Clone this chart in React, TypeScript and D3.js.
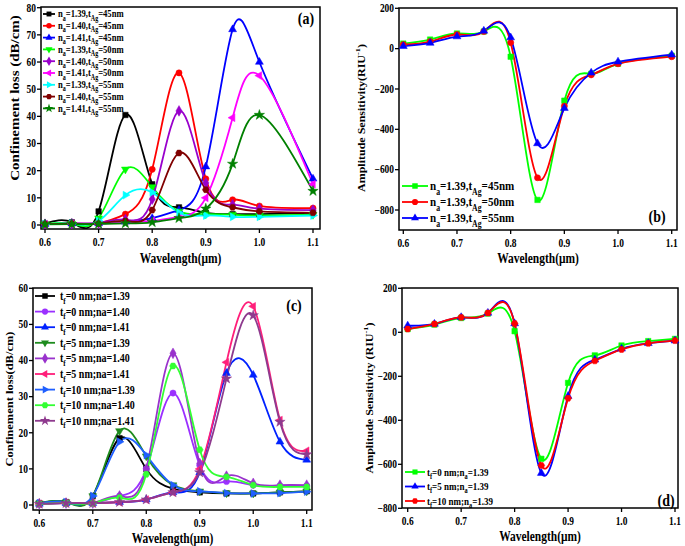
import React from 'react';
import * as d3 from 'd3';

// squeeze text horizontally like the source image
const SX = 0.82;
const FONT = '"Liberation Serif", "Times New Roman", serif';

// wavelengths (um)
const wlAB = [0.6, 0.65, 0.7, 0.75, 0.8, 0.85, 0.9, 0.95, 1.0, 1.1];
const wlCD = [0.6, 0.65, 0.7, 0.75, 0.8, 0.85, 0.9, 0.95, 1.0, 1.05, 1.1];
const xTicks = [0.6, 0.7, 0.8, 0.9, 1.0, 1.1];

// (a) confinement loss, dB/cm
const lossA_139_45 = [0.5, 1, 5, 40.5, 15, 6.5, 4.5, 4, 4, 4.5];
const lossA_140_45 = [0.3, 0.5, 0.8, 4, 20.5, 56, 17, 9.3, 7, 6.2];
const lossA_141_45 = [0.3, 0.5, 0.6, 1.2, 2.5, 5.5, 21.5, 72, 60, 17];
const lossA_139_50 = [0.3, 0.5, 2.5, 20.5, 14, 5, 4, 3.8, 3.5, 3.8];
const lossA_140_50 = [0.3, 0.5, 0.7, 2, 9.5, 42, 15.5, 7.5, 6, 5.5];
const lossA_141_50 = [0.3, 0.5, 0.5, 1, 1.5, 3, 10, 39.5, 55, 15];
const lossA_139_55 = [0.3, 0.5, 1.5, 11, 12, 4.5, 3.5, 3, 3, 3.5];
const lossA_140_55 = [0.3, 0.5, 0.5, 1.5, 5.5, 26.5, 13, 6.5, 5, 4.5];
const lossA_141_55 = [0.2, 0.3, 0.4, 0.6, 1, 2.5, 6, 22.5, 40.5, 12.5];
const yTicksA = [0, 10, 20, 30, 40, 50, 60, 70, 80];

// (b) amplitude sensitivity, RIU^-1
const sensB_45 = [25, 45, 75, 85, -40, -750, -258, -125, -75, -35];
const sensB_50 = [20, 35, 70, 85, 30, -640, -285, -130, -75, -40];
const sensB_55 = [12, 28, 60, 88, 55, -470, -295, -120, -65, -30];
const yTicksB = [-800, -600, -400, -200, 0, 200];

// (c) confinement loss, dB/cm
const lossC_0_139 = [0.5, 0.8, 2.5, 18.5, 10, 4.5, 3.5, 3.2, 3.2, 3.5, 3.8];
const lossC_0_140 = [0.3, 0.5, 0.5, 2.5, 10, 31, 11, 6.5, 5.5, 5.3, 5.3];
const lossC_0_141 = [0.3, 0.5, 0.5, 0.8, 1.5, 3.5, 9, 36.5, 36, 17.5, 12.5];
const lossC_5_139 = [0.5, 0.8, 2.5, 20.5, 13.5, 5.5, 3.8, 3.3, 3.2, 3.5, 3.8];
const lossC_5_140 = [0.3, 0.5, 0.5, 2.5, 10, 42, 11.5, 8, 6, 5.5, 5.5];
const lossC_5_141 = [0.3, 0.5, 0.5, 0.8, 1.5, 3.5, 10, 39.5, 55, 23.5, 15];
const lossC_10_139 = [0.5, 0.8, 2.5, 17.5, 13.8, 5.5, 3.8, 3.3, 3.2, 3.3, 3.7];
const lossC_10_140 = [0.3, 0.5, 0.5, 2, 8.5, 38.5, 15.3, 7.8, 5.5, 5, 5];
const lossC_10_141 = [0.3, 0.5, 0.5, 0.8, 1.5, 3.5, 9, 35, 52.5, 23, 14];
const yTicksC = [0, 10, 20, 30, 40, 50, 60];

// (d) amplitude sensitivity, RIU^-1
const sensD_0 = [15, 35, 65, 85, 5, -575, -230, -105, -60, -40, -30];
const sensD_5 = [30, 38, 68, 88, 40, -640, -290, -125, -75, -50, -38];
const sensD_10 = [15, 38, 68, 88, 40, -605, -300, -130, -78, -50, -38];
const yTicksD = [-800, -600, -400, -200, 0, 200];

type Series = { label: string; color: string; marker: string; y: number[] };

const seriesA: Series[] = [
  { label: 'n_{a}=1.39,t_{Ag}=45nm', color: '#000000', marker: 'square', y: lossA_139_45 },
  { label: 'n_{a}=1.40,t_{Ag}=45nm', color: '#ff0000', marker: 'circle', y: lossA_140_45 },
  { label: 'n_{a}=1.41,t_{Ag}=45nm', color: '#0000ff', marker: 'up', y: lossA_141_45 },
  { label: 'n_{a}=1.39,t_{Ag}=50nm', color: '#00ff00', marker: 'down', y: lossA_139_50 },
  { label: 'n_{a}=1.40,t_{Ag}=50nm', color: '#9900cc', marker: 'diamond', y: lossA_140_50 },
  { label: 'n_{a}=1.41,t_{Ag}=50nm', color: '#ff00ff', marker: 'left', y: lossA_141_50 },
  { label: 'n_{a}=1.39,t_{Ag}=55nm', color: '#00ffff', marker: 'right', y: lossA_139_55 },
  { label: 'n_{a}=1.40,t_{Ag}=55nm', color: '#800000', marker: 'hex', y: lossA_140_55 },
  { label: 'n_{a}=1.41,t_{Ag}=55nm', color: '#008000', marker: 'star', y: lossA_141_55 },
];

const seriesB: Series[] = [
  { label: 'n_{a}=1.39,t_{Ag}=45nm', color: '#00ff00', marker: 'square', y: sensB_45 },
  { label: 'n_{a}=1.39,t_{Ag}=50nm', color: '#ff0000', marker: 'circle', y: sensB_50 },
  { label: 'n_{a}=1.39,t_{Ag}=55nm', color: '#0000ff', marker: 'up', y: sensB_55 },
];

const seriesC: Series[] = [
  { label: 't_{f}=0 nm;na=1.39', color: '#000000', marker: 'square', y: lossC_0_139 },
  { label: 't_{f}=0 nm;na=1.40', color: '#9b30ff', marker: 'circle', y: lossC_0_140 },
  { label: 't_{f}=0 nm;na=1.41', color: '#0022ff', marker: 'up', y: lossC_0_141 },
  { label: 't_{f}=5 nm;na=1.39', color: '#1e8c1e', marker: 'down', y: lossC_5_139 },
  { label: 't_{f}=5 nm;na=1.40', color: '#9932cc', marker: 'diamond', y: lossC_5_140 },
  { label: 't_{f}=5 nm;na=1.41', color: '#ff1f7a', marker: 'left', y: lossC_5_141 },
  { label: 't_{f}=10 nm;na=1.39', color: '#1f5fff', marker: 'right', y: lossC_10_139 },
  { label: 't_{f}=10 nm;na=1.40', color: '#33ff33', marker: 'hex', y: lossC_10_140 },
  { label: 't_{f}=10 nm;na=1.41', color: '#8e3a8e', marker: 'star', y: lossC_10_141 },
];

const seriesD: Series[] = [
  { label: 't_{f}=0 nm;n_{a}=1.39', color: '#00ff00', marker: 'square', y: sensD_0 },
  { label: 't_{f}=5 nm;n_{a}=1.39', color: '#0000ff', marker: 'up', y: sensD_5 },
  { label: 't_{f}=10 nm;n_{a}=1.39', color: '#ff0000', marker: 'hex', y: sensD_10 },
];

function markerPath(kind: string, s: number) {
  const sym = d3.symbol();
  if (kind === 'square') return { d: sym.type(d3.symbolSquare).size(s)()!, r: 0 };
  if (kind === 'circle') return { d: sym.type(d3.symbolCircle).size(s)()!, r: 0 };
  if (kind === 'diamond') return { d: sym.type(d3.symbolDiamond).size(s * 1.1)()!, r: 0 };
  if (kind === 'star') return { d: sym.type(d3.symbolStar).size(s * 1.1)()!, r: 0 };
  if (kind === 'hex') {
    const rr = Math.sqrt(s / 2.6);
    const pts = d3.range(6).map((i) => [rr * Math.cos((i * Math.PI) / 3), rr * Math.sin((i * Math.PI) / 3)]);
    return { d: 'M' + pts.map((p) => p.join(',')).join('L') + 'Z', r: 0 };
  }
  const rot: any = { up: 0, down: 180, left: -90, right: 90 };
  return { d: sym.type(d3.symbolTriangle).size(s * 0.9)()!, r: rot[kind] || 0 };
}

// label with _{sub} and ^{sup}
function RichText({ str, size }: { str: string; size: number }) {
  const parts = str.split(/(_\{[^}]*\}|\^\{[^}]*\})/).filter((p) => p !== '');
  let shift = 0;
  return (
    <>
      {parts.map((p, i) => {
        let target = 0;
        let txt = p;
        let fs = size;
        if (p.startsWith('_{')) { target = size * 0.3; txt = p.slice(2, -1); fs = size * 0.7; }
        else if (p.startsWith('^{')) { target = -size * 0.4; txt = p.slice(2, -1); fs = size * 0.7; }
        const dy = target - shift;
        shift = target;
        return <tspan key={i} dy={dy} fontSize={fs}>{txt}</tspan>;
      })}
    </>
  );
}

function Txt(props: { x: number; y: number; size: number; anchor?: string; rot?: boolean; children: any; baseline?: string }) {
  const { x, y, size, anchor = 'start', rot, children, baseline } = props;
  const tf = rot ? `translate(${x},${y}) rotate(-90) scale(1,${SX})` : `translate(${x},${y}) scale(${SX},1)`;
  return (
    <text transform={tf} fontSize={size} fontWeight="bold" fontFamily={FONT} textAnchor={anchor} dominantBaseline={baseline} fill="#000">
      {children}
    </text>
  );
}

type PanelProps = {
  box: number[]; // left, top, right, bottom
  xr: number[]; // pixel of 0.6 and 1.1
  yDom: number[]; yr: number[];
  yTicks: number[]; xs: number[]; series: Series[];
  yLabel: string; yLabelPos: number[]; yLabelSize: number;
  xLabelY: number; tickY: number;
  tag: string; tagPos: number[];
  legend: { x0: number; x1: number; tx: number; y0: number; dy: number; size: number; ms: number };
};

function Panel(p: PanelProps) {
  const [L, T, R, B] = p.box;
  const x = d3.scaleLinear().domain([0.6, 1.1]).range(p.xr);
  const y = d3.scaleLinear().domain(p.yDom).range(p.yr);
  const line = d3.line<number>().x((_, i) => x(p.xs[i])).y((d) => y(d)).curve(d3.curveNatural);
  const fmtY = (v: number) => (v < 0 ? '\u2212' + Math.abs(v) : String(v));
  const ms = 30;
  return (
    <g>
      <rect x={L} y={T} width={R - L} height={B - T} fill="#fff" stroke="#000" strokeWidth={1.5} />
      {p.series.map((s, si) => (
        <path key={'l' + si} d={line(s.y)!} fill="none" stroke={s.color} strokeWidth={1.8} />
      ))}
      {p.series.map((s, si) => {
        const m = markerPath(s.marker, ms);
        return s.y.map((v, i) => (
          <path key={'m' + si + '_' + i} d={m.d} fill={s.color} stroke={s.color} strokeWidth={0.5}
            transform={`translate(${x(p.xs[i])},${y(v)}) rotate(${m.r})`} />
        ));
      })}
      {/* ticks */}
      {p.yTicks.map((v) => (
        <g key={'yt' + v}>
          <line x1={L - 4} x2={L} y1={y(v)} y2={y(v)} stroke="#000" strokeWidth={1.3} />
          <Txt x={L - 5} y={y(v)} size={11.5} anchor="end" baseline="central">{fmtY(v)}</Txt>
        </g>
      ))}
      {xTicks.map((v) => (
        <g key={'xt' + v}>
          <line x1={x(v)} x2={x(v)} y1={B} y2={B + 4} stroke="#000" strokeWidth={1.3} />
          <Txt x={x(v)} y={p.tickY} size={11.5} anchor="middle">{d3.format('.1f')(v)}</Txt>
        </g>
      ))}
      <Txt x={(L + R) / 2} y={p.xLabelY} size={14} anchor="middle">Wavelength(μm)</Txt>
      <Txt x={p.yLabelPos[0]} y={p.yLabelPos[1]} size={p.yLabelSize} anchor="middle" rot baseline="central">
        <RichText str={p.yLabel} size={p.yLabelSize} />
      </Txt>
      <Txt x={p.tagPos[0]} y={p.tagPos[1]} size={17} anchor="middle">{p.tag}</Txt>
      {/* legend */}
      {p.series.map((s, i) => {
        const lg = p.legend;
        const yy = lg.y0 + i * lg.dy;
        const m = markerPath(s.marker, lg.ms);
        return (
          <g key={'lg' + i}>
            <line x1={lg.x0} x2={lg.x1} y1={yy} y2={yy} stroke={s.color} strokeWidth={1.8} />
            <path d={m.d} fill={s.color} transform={`translate(${(lg.x0 + lg.x1) / 2},${yy}) rotate(${m.r})`} />
            <Txt x={lg.tx} y={yy + lg.size * 0.33} size={lg.size}>
              <RichText str={s.label} size={lg.size} />
            </Txt>
          </g>
        );
      })}
    </g>
  );
}

export default function App() {
  return (
    <svg width={685} height={546} style={{ position: 'absolute', left: 0, top: 0, background: '#fff' }}>
      <rect width={685} height={546} fill="#fff" />
      <Panel box={[41, 7, 320, 229]} xr={[45, 313]} yDom={[0, 80]} yr={[225, 7.7]} yTicks={yTicksA}
        xs={wlAB} series={seriesA} yLabel="Confinement loss (dB/cm)" yLabelPos={[15, 98]} yLabelSize={15}
        xLabelY={263} tickY={246} tag="(a)" tagPos={[306, 24]}
        legend={{ x0: 43, x1: 55, tx: 58, y0: 14, dy: 11.8, size: 10.5, ms: 24 }} />
      <Panel box={[399, 8, 677, 230]} xr={[403.3, 671.7]} yDom={[-800, 200]} yr={[210, 8.3]} yTicks={yTicksB}
        xs={wlAB} series={seriesB} yLabel="Amplitude Sensitivity(RIU^{-1})" yLabelPos={[361, 118]} yLabelSize={12}
        xLabelY={263} tickY={247} tag="(b)" tagPos={[657, 222]}
        legend={{ x0: 402, x1: 428, tx: 430, y0: 186, dy: 16, size: 13.5, ms: 30 }} />
      <Panel box={[33, 288, 312, 510]} xr={[39.3, 306.7]} yDom={[0, 60]} yr={[505, 288.3]} yTicks={yTicksC}
        xs={wlCD} series={seriesC} yLabel="Confinement loss(dB/cm)" yLabelPos={[9, 399]} yLabelSize={12.5}
        xLabelY={543} tickY={527} tag="(c)" tagPos={[294, 311]}
        legend={{ x0: 35, x1: 55, tx: 60, y0: 296, dy: 15.6, size: 12.2, ms: 30 }} />
      <Panel box={[402, 288, 678, 508]} xr={[407.7, 675]} yDom={[-800, 200]} yr={[508.3, 288.3]} yTicks={yTicksD}
        xs={wlCD} series={seriesD} yLabel="Amplitude Sensitivity (RIU^{-1})" yLabelPos={[369, 398]} yLabelSize={12}
        xLabelY={541} tickY={525} tag="(d)" tagPos={[666, 506]}
        legend={{ x0: 405, x1: 425, tx: 427, y0: 472, dy: 14.5, size: 11, ms: 26 }} />
    </svg>
  );
}
